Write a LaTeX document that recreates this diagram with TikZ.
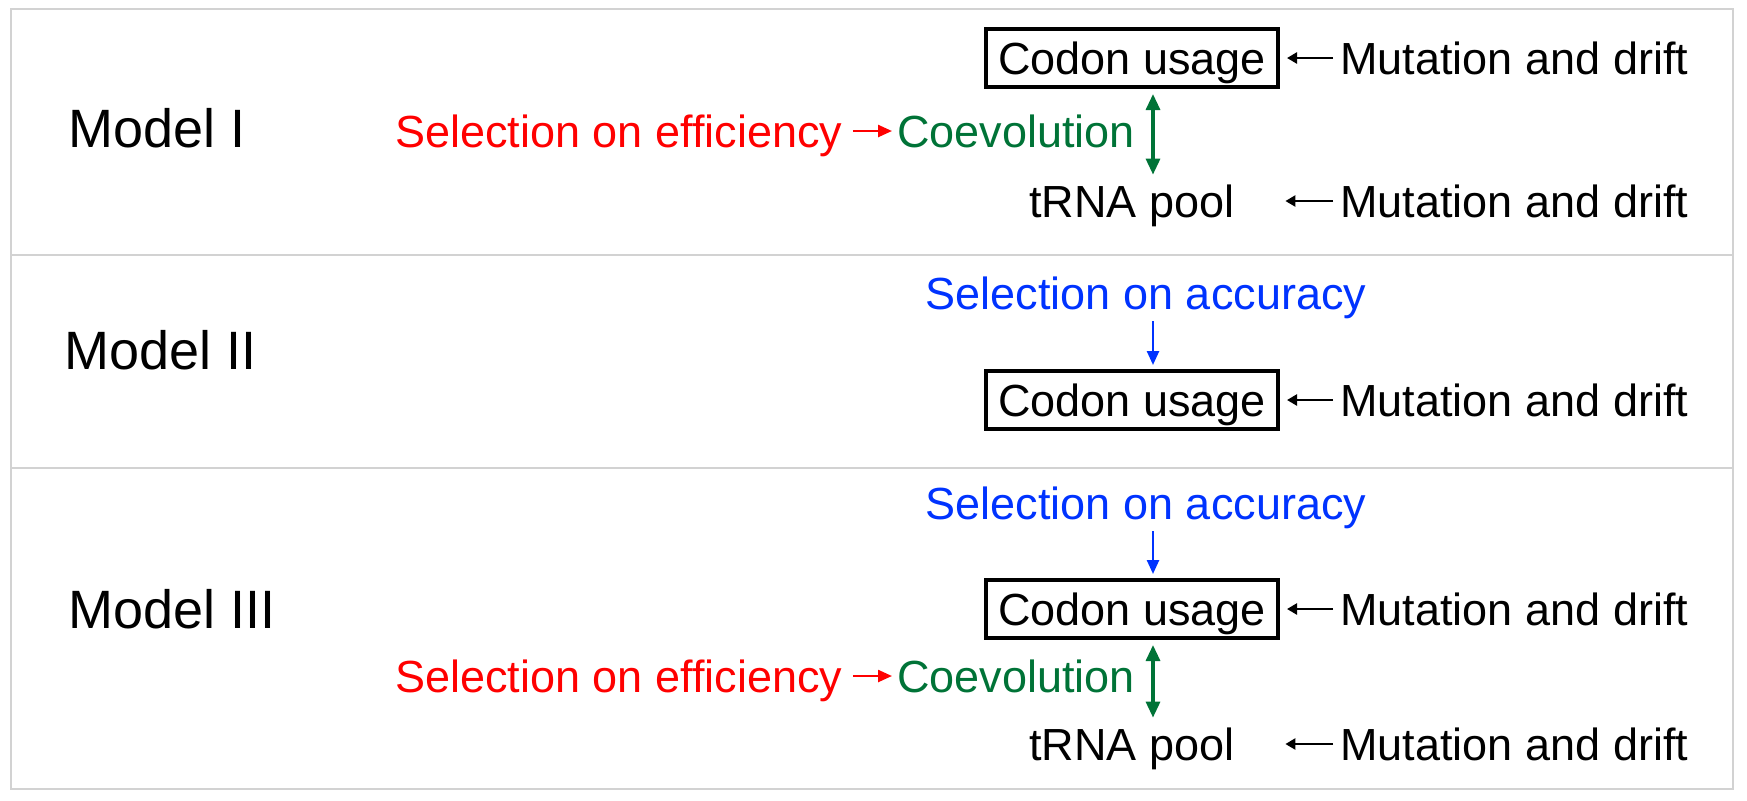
\documentclass[tikz,border=0pt]{standalone}
\usepackage{fontspec}
\setmainfont{Liberation Sans}
\usepackage{tikz}
\usetikzlibrary{arrows.meta}

\definecolor{effred}{RGB}{255,0,0}
\definecolor{coevgreen}{RGB}{0,115,55}
\definecolor{accblue}{RGB}{0,51,255}
\definecolor{framegray}{RGB}{210,210,210}

\begin{document}
\begin{tikzpicture}[x=0.5pt,y=-0.5pt]
\tikzstyle{every node}=[inner sep=0pt,font=\fontsize{22.5pt}{26pt}\selectfont,text height=16pt,text depth=0pt]
\tikzstyle{modellbl}=[anchor=west,font=\fontsize{27pt}{31pt}\selectfont,text height=19.3pt]
\tikzstyle{codonbox}=[draw,line width=2pt,minimum width=146pt,minimum height=29pt]
\tikzstyle{poolbox}=[minimum width=146pt]
\tikzstyle{mutarrow}=[line width=1.2pt,-{Triangle[length=5pt,width=5.5pt]},shorten <=3.5pt,shorten >=3.5pt]
\tikzstyle{effarrow}=[effred,line width=1.2pt,-{Triangle[length=7pt,width=6pt]},shorten <=5pt,shorten >=2.5pt]
\tikzstyle{accarrow}=[accblue,line width=1.2pt,-{Triangle[length=7pt,width=6pt]},shorten <=6pt,shorten >=2pt]
\tikzstyle{coevarrow}=[coevgreen,line width=1.6pt,{Triangle[length=8pt,width=7pt]}-{Triangle[length=8pt,width=7pt]},shorten <=2.5pt,shorten >=5pt]
\useasboundingbox (0,0) rectangle (1747,800);
% frame and panels
\draw[framegray,line width=1pt] (11,9) rectangle (1733,789);
\draw[framegray,line width=1pt] (11,255) -- (1733,255);
\draw[framegray,line width=1pt] (11,468) -- (1733,468);
\coordinate (ax) at (1153,0);
% Model I
\node[modellbl] (m1) at (68,128) {Model I};
\node[anchor=west,text=effred] (eff1) at (395,131) {Selection on efficiency};
\node[anchor=west,text=coevgreen] (coev1) at (897,131) {Coevolution};
\node[codonbox] (codon1) at (1132,58) {Codon usage};
\node[poolbox] (trna1) at (1132,201) {tRNA pool};
\node[anchor=west] (mut1) at (1340,58) {Mutation and drift};
\node[anchor=west] (mut2) at (1340,201) {Mutation and drift};
\draw[effarrow] (eff1.east) -- (coev1.west);
\draw[coevarrow] (codon1.south -| ax) -- (trna1.north -| ax);
\draw[mutarrow] (mut1.west) -- (codon1.east);
\draw[mutarrow] (mut2.west) -- (trna1.east);
% Model II
\node[modellbl] (m2) at (64,350) {Model II};
\node[text=accblue] (acc2) at (1146,293) {Selection on accuracy};
\node[codonbox] (codon2) at (1132,400) {Codon usage};
\node[anchor=west] (mut3) at (1340,400) {Mutation and drift};
\draw[accarrow] (acc2.south -| ax) -- (codon2.north -| ax);
\draw[mutarrow] (mut3.west) -- (codon2.east);
% Model III
\node[modellbl] (m3) at (68,609) {Model III};
\node[text=accblue] (acc3) at (1146,503) {Selection on accuracy};
\node[codonbox] (codon3) at (1132,609) {Codon usage};
\node[anchor=west] (mut4) at (1340,609) {Mutation and drift};
\node[anchor=west,text=effred] (eff3) at (395,676) {Selection on efficiency};
\node[anchor=west,text=coevgreen] (coev3) at (897,676) {Coevolution};
\node[poolbox] (trna3) at (1132,744) {tRNA pool};
\node[anchor=west] (mut5) at (1340,744) {Mutation and drift};
\draw[accarrow] (acc3.south -| ax) -- (codon3.north -| ax);
\draw[mutarrow] (mut4.west) -- (codon3.east);
\draw[effarrow] (eff3.east) -- (coev3.west);
\draw[coevarrow] (codon3.south -| ax) -- (trna3.north -| ax);
\draw[mutarrow] (mut5.west) -- (trna3.east);
\end{tikzpicture}
\end{document}
